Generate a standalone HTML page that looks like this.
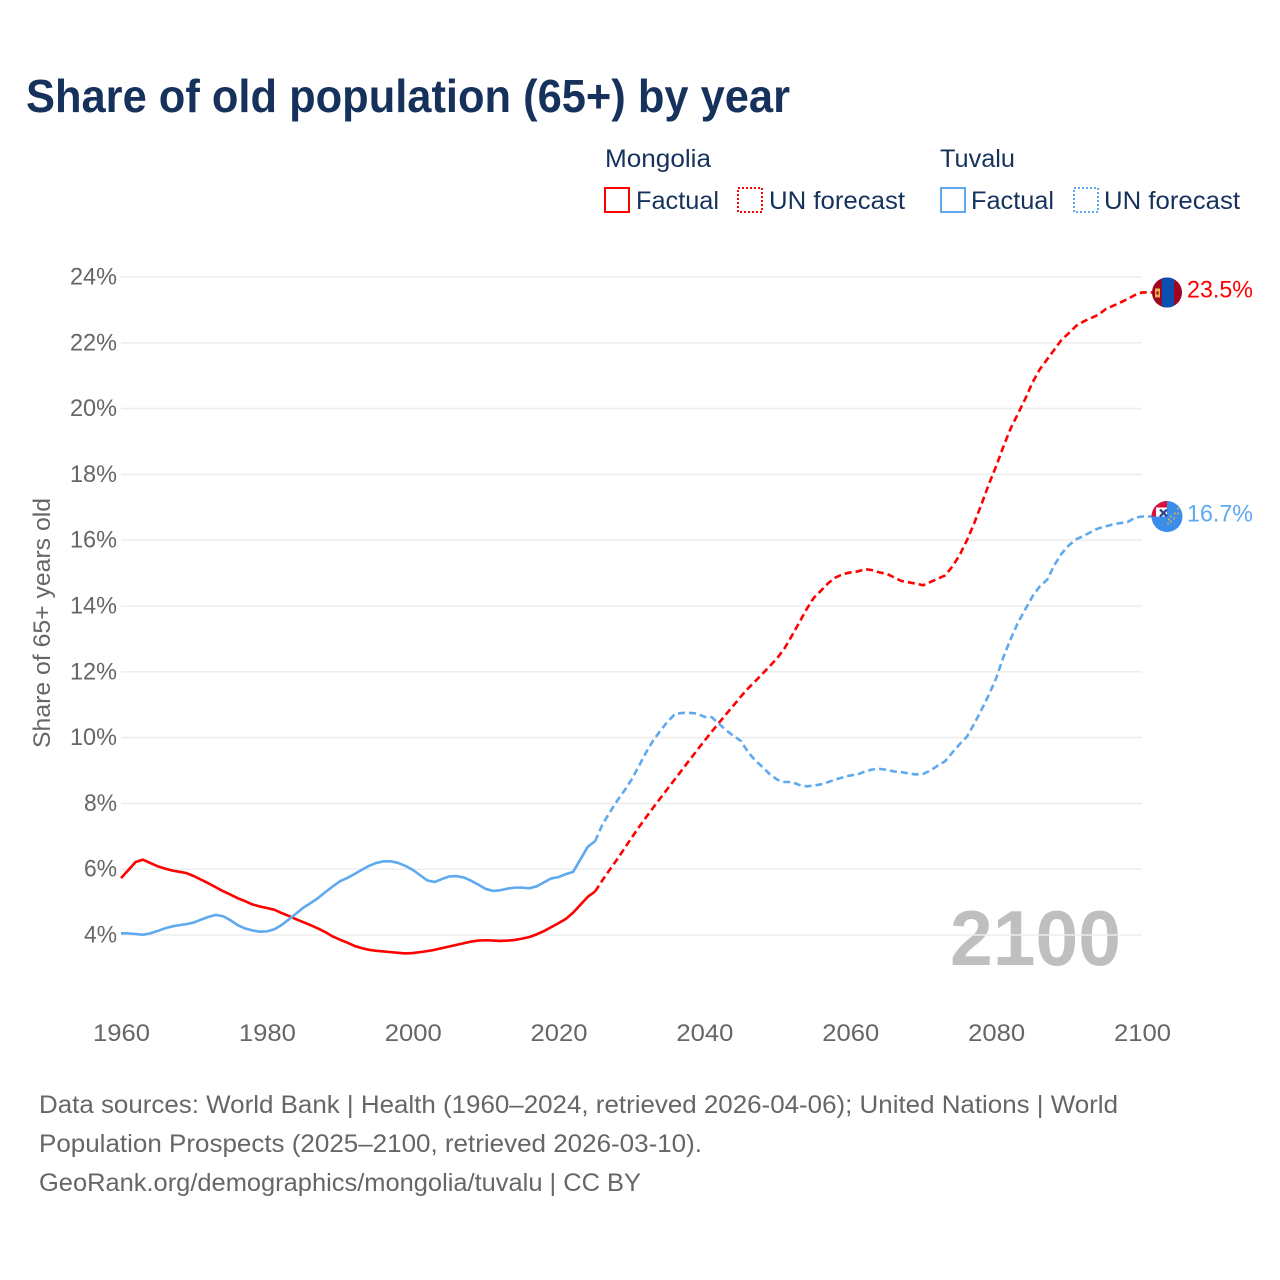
<!DOCTYPE html>
<html lang="en">
<head>
<meta charset="utf-8">
<title>Share of old population (65+) by year</title>
<style>
html,body{margin:0;padding:0;background:#fff;}
svg{display:block;}
text{font-family:"Liberation Sans",sans-serif;}
</style>
</head>
<body>
<svg id="chart" xmlns="http://www.w3.org/2000/svg" width="1280" height="1280" viewBox="0 0 1280 1280">
  <rect width="1280" height="1280" fill="#ffffff"/>
  <text x="26" y="112" font-size="46" font-weight="700" fill="#16325c" textLength="764" lengthAdjust="spacingAndGlyphs">Share of old population (65+) by year</text>

  <g font-size="25" fill="#16325c">
    <text x="605" y="167" textLength="106" lengthAdjust="spacingAndGlyphs">Mongolia</text>
    <rect x="605" y="188" width="24" height="24" fill="none" stroke="#ff0000" stroke-width="2"/>
    <text x="636" y="209" textLength="83" lengthAdjust="spacingAndGlyphs">Factual</text>
    <rect x="738" y="188" width="24" height="24" fill="none" stroke="#ff0000" stroke-width="2" stroke-dasharray="2 2"/>
    <text x="769" y="209" textLength="136" lengthAdjust="spacingAndGlyphs">UN forecast</text>
    <text x="940" y="167" textLength="75" lengthAdjust="spacingAndGlyphs">Tuvalu</text>
    <rect x="941" y="188" width="24" height="24" fill="none" stroke="#5ea9ef" stroke-width="2"/>
    <text x="971" y="209" textLength="83" lengthAdjust="spacingAndGlyphs">Factual</text>
    <rect x="1074" y="188" width="24" height="24" fill="none" stroke="#5ea9ef" stroke-width="2" stroke-dasharray="2 2"/>
    <text x="1104" y="209" textLength="136" lengthAdjust="spacingAndGlyphs">UN forecast</text>
  </g>

  <text x="950" y="965" font-size="78" font-weight="700" fill="#000000" fill-opacity="0.25" textLength="171" lengthAdjust="spacingAndGlyphs">2100</text>
  <g id="grid"></g>
  <g id="y-ticks"></g>
  <g id="x-ticks"></g>
  <text transform="translate(50,623) rotate(-90)" text-anchor="middle" font-size="24.5" fill="#666666" textLength="250" lengthAdjust="spacingAndGlyphs">Share of 65+ years old</text>
  <g id="series"></g>

  <defs>
    <clipPath id="clip-mn"><circle id="clip-mn-c" r="15" cx="0" cy="0"/></clipPath>
    <clipPath id="clip-tv"><circle id="clip-tv-c" r="15.5" cx="0" cy="0"/></clipPath>
  </defs>
  <g id="flag-mn" clip-path="url(#clip-mn)">
    <rect x="-15" y="-15" width="30" height="30" fill="#a0041e"/>
    <rect x="-5.2" y="-15" width="12.2" height="30" fill="#0a4fb0"/>
    <rect x="-12" y="-4" width="5" height="9" fill="#e9b44c"/>
    <rect x="-10.6" y="-1" width="2.2" height="3" fill="#a0041e"/>
  </g>
  <g id="flag-tv" clip-path="url(#clip-tv)">
    <rect x="-16" y="-16" width="32" height="32" fill="#3a8eea"/>
    <rect x="-16" y="-16" width="16" height="16" fill="#d8123c"/>
    <rect x="-11" y="-9" width="11" height="9" fill="#ffffff"/>
    <rect x="-7" y="-7" width="7" height="7" fill="#f0f0f6"/>
    <path d="M-7 -7 L0 0 M0 -7 L-7 0" stroke="#28408c" stroke-width="2.2"/>
    <g fill="#e2b04a">
      <circle cx="11" cy="-8" r="1"/><circle cx="8" cy="-3" r="1"/>
      <circle cx="11" cy="-3" r="1"/><circle cx="4" cy="0" r="1"/>
      <circle cx="7" cy="2" r="1"/><circle cx="2" cy="3" r="1"/>
      <circle cx="4" cy="5" r="1"/><circle cx="1" cy="7" r="1"/>
    </g>
  </g>
  <text id="label-mn" x="1187" font-size="24.5" fill="#ff0000" textLength="66" lengthAdjust="spacingAndGlyphs"></text>
  <text id="label-tv" x="1187" font-size="24.5" fill="#5ea9ef" textLength="66" lengthAdjust="spacingAndGlyphs"></text>

  <g font-size="25" fill="#666666">
    <text x="39" y="1113" textLength="1079" lengthAdjust="spacingAndGlyphs">Data sources: World Bank | Health (1960–2024, retrieved 2026-04-06); United Nations | World</text>
    <text x="39" y="1152" textLength="663" lengthAdjust="spacingAndGlyphs">Population Prospects (2025–2100, retrieved 2026-03-10).</text>
    <text x="39" y="1191" textLength="602" lengthAdjust="spacingAndGlyphs">GeoRank.org/demographics/mongolia/tuvalu | CC BY</text>
  </g>
</svg>
<script>
const yTickValues = [4,6,8,10,12,14,16,18,20,22,24];
const xTickYears = [1960,1980,2000,2020,2040,2060,2080,2100];
const factualStartYear = 1960;
const forecastStartYear = 2025;

const mongoliaFactual = [5.73,5.97,6.22,6.29,6.19,6.09,6.02,5.96,5.92,5.88,5.79,5.68,5.57,5.45,5.33,5.23,5.12,5.03,4.93,4.87,4.82,4.77,4.67,4.58,4.48,4.39,4.30,4.20,4.09,3.96,3.86,3.77,3.67,3.60,3.55,3.52,3.50,3.48,3.46,3.44,3.45,3.48,3.51,3.55,3.60,3.65,3.70,3.75,3.80,3.83,3.84,3.83,3.82,3.83,3.85,3.89,3.94,4.02,4.12,4.24,4.36,4.49,4.68,4.92,5.16,5.32];
const mongoliaForecast = [5.32,5.66,5.98,6.29,6.62,6.95,7.27,7.58,7.88,8.17,8.46,8.75,9.04,9.33,9.62,9.90,10.18,10.45,10.72,10.98,11.25,11.50,11.72,11.95,12.18,12.42,12.72,13.10,13.50,13.90,14.25,14.47,14.70,14.87,14.97,15.02,15.05,15.12,15.09,15.02,14.98,14.87,14.76,14.72,14.68,14.63,14.73,14.83,14.93,15.20,15.55,16.00,16.52,17.10,17.70,18.25,18.85,19.40,19.85,20.30,20.80,21.20,21.50,21.80,22.10,22.30,22.52,22.65,22.75,22.85,23.02,23.12,23.22,23.33,23.45,23.53];
const tuvaluFactual = [4.05,4.05,4.03,4.01,4.05,4.12,4.20,4.26,4.30,4.33,4.38,4.47,4.55,4.61,4.57,4.45,4.30,4.20,4.14,4.10,4.11,4.17,4.30,4.47,4.65,4.83,4.97,5.12,5.30,5.47,5.63,5.73,5.85,5.98,6.10,6.19,6.24,6.24,6.19,6.10,5.98,5.82,5.66,5.61,5.70,5.78,5.79,5.75,5.65,5.53,5.40,5.34,5.36,5.41,5.44,5.44,5.42,5.48,5.60,5.72,5.76,5.85,5.92,6.30,6.68,6.85];
const tuvaluForecast = [6.85,7.35,7.72,8.07,8.38,8.72,9.13,9.55,9.92,10.22,10.50,10.72,10.75,10.75,10.73,10.63,10.62,10.42,10.22,10.05,9.90,9.55,9.30,9.10,8.88,8.72,8.65,8.65,8.56,8.52,8.54,8.58,8.65,8.73,8.79,8.85,8.88,8.97,9.03,9.05,9.02,8.97,8.95,8.91,8.88,8.90,9.00,9.15,9.28,9.55,9.80,10.03,10.42,10.85,11.30,11.80,12.45,13.00,13.50,13.90,14.30,14.60,14.80,15.25,15.60,15.85,16.03,16.13,16.25,16.36,16.42,16.48,16.52,16.55,16.68,16.72];

const NS = 'http://www.w3.org/2000/svg';
function xScale(year) { return 121 + (year - 1960) * (1142 - 121) / 140; }
function yScale(value) { return 935 - (value - 4) * (935 - 277) / 20; }

const gridG = document.getElementById('grid');
const yG = document.getElementById('y-ticks');
yTickValues.forEach(function (v) {
  const line = document.createElementNS(NS, 'line');
  
  
  line.setAttribute('x1', xScale(1960));
  line.setAttribute('x2', xScale(2100));
  line.setAttribute('y1', yScale(v));
  line.setAttribute('y2', yScale(v));
  line.setAttribute('stroke', '#eeeeee');
  line.setAttribute('stroke-width', '1.6');
  gridG.appendChild(line);

  const t = document.createElementNS(NS, 'text');
  
  
  const s = v + '%';
  t.textContent = s;
  t.setAttribute('x', 117);
  t.setAttribute('y', yScale(v) + 7.5);
  t.setAttribute('text-anchor', 'end');
  t.setAttribute('font-size', '24.5');
  t.setAttribute('fill', '#666666');
  t.setAttribute('textLength', (s.length - 1) * 14 + 19);
  t.setAttribute('lengthAdjust', 'spacingAndGlyphs');
  yG.appendChild(t);
});

const xG = document.getElementById('x-ticks');
xTickYears.forEach(function (year) {
  const t = document.createElementNS(NS, 'text');
  
  
  t.textContent = String(year);
  t.setAttribute('x', xScale(year) + 0.5);
  t.setAttribute('y', 1041);
  t.setAttribute('text-anchor', 'middle');
  t.setAttribute('font-size', '24.5');
  t.setAttribute('fill', '#666666');
  t.setAttribute('textLength', '57');
  t.setAttribute('lengthAdjust', 'spacingAndGlyphs');
  xG.appendChild(t);
});

function linePoints(values, startYear, extend) {
  const pts = values.map(function (v, i) {
    return xScale(startYear + i).toFixed(2) + ',' + yScale(v).toFixed(2);
  });
  if (extend) {
    pts.push((xScale(startYear + values.length - 1) + 25).toFixed(2) + ',' + yScale(values[values.length - 1]).toFixed(2));
  }
  return pts.join(' ');
}

const seriesG = document.getElementById('series');

const mnFactualLine = document.createElementNS(NS, 'polyline');


mnFactualLine.setAttribute('points', linePoints(mongoliaFactual, factualStartYear, false));
mnFactualLine.setAttribute('fill', 'none');
mnFactualLine.setAttribute('stroke', '#ff0000');
mnFactualLine.setAttribute('stroke-width', '2.6');
mnFactualLine.setAttribute('stroke-linejoin', 'round');
seriesG.appendChild(mnFactualLine);

const tvFactualLine = document.createElementNS(NS, 'polyline');


tvFactualLine.setAttribute('points', linePoints(tuvaluFactual, factualStartYear, false));
tvFactualLine.setAttribute('fill', 'none');
tvFactualLine.setAttribute('stroke', '#5ea9ef');
tvFactualLine.setAttribute('stroke-width', '2.6');
tvFactualLine.setAttribute('stroke-linejoin', 'round');
seriesG.appendChild(tvFactualLine);

const mnForecastLine = document.createElementNS(NS, 'polyline');


mnForecastLine.setAttribute('points', linePoints(mongoliaForecast, forecastStartYear, true));
mnForecastLine.setAttribute('fill', 'none');
mnForecastLine.setAttribute('stroke', '#ff0000');
mnForecastLine.setAttribute('stroke-width', '2.6');
mnForecastLine.setAttribute('stroke-linejoin', 'round');
mnForecastLine.setAttribute('stroke-dasharray', '7 4');
seriesG.appendChild(mnForecastLine);

const tvForecastLine = document.createElementNS(NS, 'polyline');


tvForecastLine.setAttribute('points', linePoints(tuvaluForecast, forecastStartYear, true));
tvForecastLine.setAttribute('fill', 'none');
tvForecastLine.setAttribute('stroke', '#5ea9ef');
tvForecastLine.setAttribute('stroke-width', '2.6');
tvForecastLine.setAttribute('stroke-linejoin', 'round');
tvForecastLine.setAttribute('stroke-dasharray', '7 4');
seriesG.appendChild(tvForecastLine);

const endX = xScale(2100) + 25;
const mnLast = mongoliaForecast[mongoliaForecast.length - 1];
const tvLast = tuvaluForecast[tuvaluForecast.length - 1];
document.getElementById('flag-mn').setAttribute('transform', 'translate(' + endX + ',' + yScale(mnLast) + ')');
document.getElementById('flag-tv').setAttribute('transform', 'translate(' + endX + ',' + yScale(tvLast) + ')');
const labelMn = document.getElementById('label-mn');
labelMn.textContent = mnLast.toFixed(1) + '%';
labelMn.setAttribute('y', yScale(mnLast) + 5);
const labelTv = document.getElementById('label-tv');
labelTv.textContent = tvLast.toFixed(1) + '%';
labelTv.setAttribute('y', yScale(tvLast) + 5);
</script>
</body>
</html>
